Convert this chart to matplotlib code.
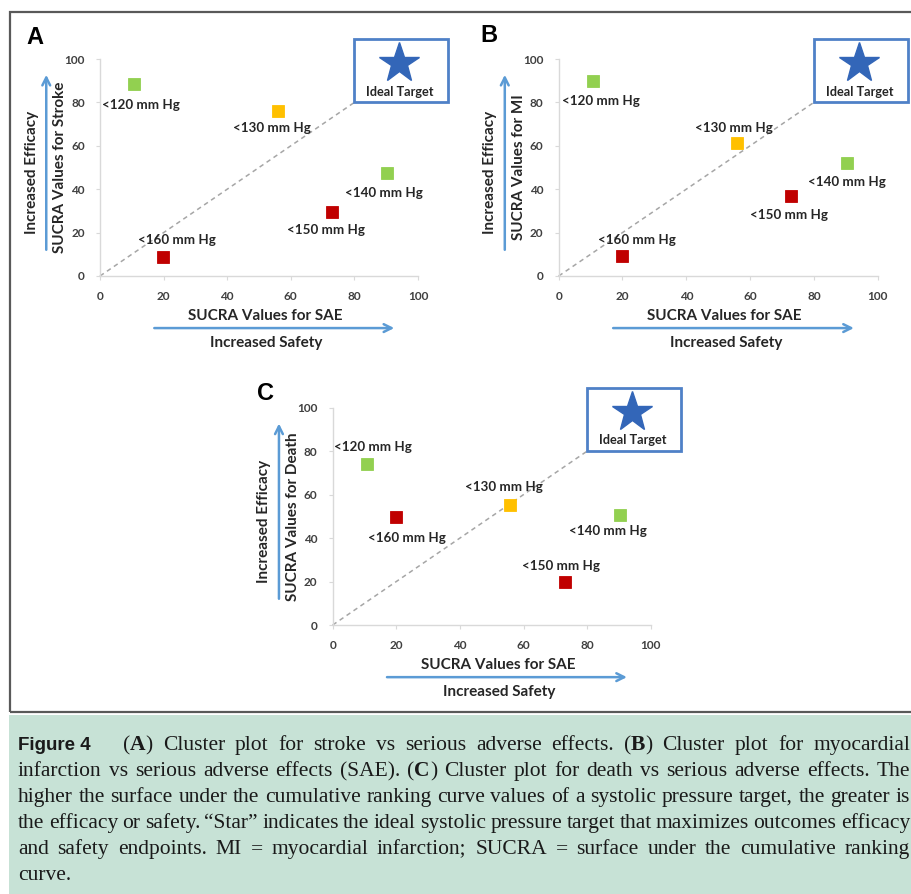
#!/usr/bin/env python3
"""Cluster plots of SUCRA values: efficacy endpoints vs serious adverse effects."""

import matplotlib

matplotlib.use("Agg")
import matplotlib.pyplot as plt
from matplotlib.patches import Rectangle

# ---- data -------------------------------------------------------------
targets = ["<120 mm Hg", "<130 mm Hg", "<140 mm Hg", "<150 mm Hg", "<160 mm Hg"]
target_colors = ["#92d050", "#ffc000", "#92d050", "#c00000", "#c00000"]

sucra_sae = [10.7, 55.9, 90.4, 72.9, 19.9]
sucra_stroke = [88.3, 76.0, 47.3, 29.3, 8.6]
sucra_mi = [89.9, 61.4, 51.9, 37.0, 9.2]
sucra_death = [74.0, 55.3, 50.7, 20.0, 49.9]

ideal_x, ideal_y = 94, 98

caption_lines = [
    "(A) Cluster plot for stroke vs serious adverse effects. (B) Cluster plot for myocardial",
    "infarction vs serious adverse effects (SAE). (C) Cluster plot for death vs serious adverse effects. The",
    "higher the surface under the cumulative ranking curve values of a systolic pressure target, the greater is",
    "the efficacy or safety. \u201cStar\u201d indicates the ideal systolic pressure target that maximizes outcomes efficacy",
    "and safety endpoints. MI = myocardial infarction; SUCRA = surface under the cumulative ranking",
    "curve.",
]

# ---- layout (pixels of the 912x894 canvas) ----------------------------
W, H = 912, 894
BLUE = "#5b9bd5"
LABEL_FONT = "Lato"
TEXT_COLOR = "#262626"

panels = [
    dict(
        letter="A", letter_xy=(35, 37), rect=(100, 59, 318, 217),
        ylabel="SUCRA Values for Stroke", values=sucra_stroke,
        label_pos=[(0.5, 78.8), (41.9, 68.0), (76.9, 38.1), (58.9, 21.2), (11.8, 16.6)],
    ),
    dict(
        letter="B", letter_xy=(489, 35), rect=(558.7, 59, 319, 217),
        ylabel="SUCRA Values for MI", values=sucra_mi,
        label_pos=[(0.9, 80.8), (42.7, 68.0), (78.2, 43.5), (60.0, 28.1), (12.4, 16.6)],
    ),
    dict(
        letter="C", letter_xy=(266, 393), rect=(332.7, 407.7, 318, 217.3),
        ylabel="SUCRA Values for Death", values=sucra_death,
        label_pos=[(0.4, 81.7), (41.6, 63.6), (74.4, 43.3), (59.4, 27.1), (11.2, 39.9)],
    ),
]


def px_to_fig(x, y):
    return x / W, 1 - y / H


def bold_label(ax, x, y, text, size, **kw):
    return ax.text(x, y, text, fontsize=size, family=LABEL_FONT, fontweight="bold",
                   color=TEXT_COLOR, **kw)


def draw_panel(fig, spec):
    left, top, width, height = spec["rect"]
    x0, y1 = px_to_fig(left, top + height)
    ax = fig.add_axes([x0, y1, width / W, height / H])
    ax.set_xlim(0, 100)
    ax.set_ylim(0, 100)
    ax.set_xticks(range(0, 101, 20))
    ax.set_yticks(range(0, 101, 20))
    for side in ("top", "right"):
        ax.spines[side].set_visible(False)
    for side in ("left", "bottom"):
        ax.spines[side].set_color("#d9d9d9")
        ax.spines[side].set_linewidth(1.0)
    ax.tick_params(length=3, color="#d9d9d9", labelcolor="#404040", labelsize=8.5, pad=8)
    for lab in ax.get_xticklabels() + ax.get_yticklabels():
        lab.set_fontfamily(LABEL_FONT)
        lab.set_fontweight("bold")

    # diagonal to the ideal target box
    ax.plot([0, 80], [0, 80], ls=(0, (3, 2.5)), color="#a6a6a6", lw=1.1, clip_on=False)

    for x, y, color in zip(sucra_sae, spec["values"], target_colors):
        ax.plot(x, y, marker="s", ms=9, color=color, mec=color, mew=0.6,
                ls="none", zorder=3)
    for name, (tx, ty) in zip(targets, spec["label_pos"]):
        bold_label(ax, tx, ty, name, 9.6, ha="left", va="center")

    # ideal target
    ax.add_patch(Rectangle((80, 80), 29.5, 29, fill=False, ec="#4f81c7", lw=2.0,
                           clip_on=False, zorder=4))
    ax.plot(ideal_x, ideal_y, marker="*", ms=30, color="#3366b8", clip_on=False, zorder=5)
    bold_label(ax, 94.3, 85, "Ideal Target", 9.2, ha="center", va="center")

    # axis titles and arrows
    tr = ax.transAxes
    bold_label(ax, 0.52, -0.184, "SUCRA Values for SAE", 11, transform=tr,
               ha="center", va="center")
    bold_label(ax, 0.524, -0.307, "Increased Safety", 11, transform=tr,
               ha="center", va="center")
    bold_label(ax, -0.126, 0.5, spec["ylabel"], 11, transform=tr, rotation=90,
               ha="center", va="center")
    bold_label(ax, -0.215, 0.477, "Increased Efficacy", 11, transform=tr, rotation=90,
               ha="center", va="center")
    arrow = dict(arrowstyle="->", color=BLUE, lw=1.8, mutation_scale=14)
    ax.annotate("", xy=(0.934, -0.24), xytext=(0.162, -0.24), xycoords="axes fraction",
                arrowprops=arrow)
    ax.annotate("", xy=(-0.169, 0.94), xytext=(-0.169, 0.108), xycoords="axes fraction",
                arrowprops=arrow)

    lx, ly = px_to_fig(*spec["letter_xy"])
    fig.text(lx, ly, spec["letter"], ha="center", va="center", fontsize=17,
             family="Liberation Sans", fontweight="bold", color="black")


def split_word(word):
    # (A), (B), (C) have a bold letter inside plain parentheses
    if len(word) == 3 and word[0] == "(" and word[2] == ")" and word[1] in "ABC":
        return [("(", "normal"), (word[1], "bold"), (")", "normal")]
    return [(word, "normal")]


def text_width(fig, renderer, text, **kw):
    t = fig.text(0, 0, text, **kw)
    w = t.get_window_extent(renderer).width
    t.remove()
    return w


def draw_caption(fig, renderer):
    font = dict(fontsize=15.5, family="Liberation Serif", color="#1a1a1a", va="baseline")
    right = 910
    baseline0, step = 750, 26
    space = text_width(fig, renderer, "a a", **font) - 2 * text_width(fig, renderer, "a", **font)

    fig.text(18 / W, 1 - baseline0 / H, "Figure 4", fontsize=13.5, family="Liberation Sans",
             fontweight="bold", color="#1a1a1a", va="baseline")

    for i, line in enumerate(caption_lines):
        y = 1 - (baseline0 + i * step) / H
        start = 123 if i == 0 else 18
        words = []
        for word in line.split(" "):
            pieces = []
            for text, weight in split_word(word):
                t = fig.text(0, y, text, fontweight=weight, **font)
                pieces.append((t, t.get_window_extent(renderer).width))
            words.append(pieces)
        widths = [sum(w for _, w in pieces) for pieces in words]
        if i == len(caption_lines) - 1 or len(words) < 2:
            gap = space
        else:
            gap = max((right - start - sum(widths)) / (len(words) - 1), 0.6 * space)
        x = start
        for pieces, wd in zip(words, widths):
            px = x
            for t, w in pieces:
                t.set_x(px / W)
                px += w
            x += wd + gap


def main():
    fig = plt.figure(figsize=(W / 100, H / 100), dpi=100)
    fig.patch.set_facecolor("white")

    # outer frame around the three panels
    fig.add_artist(Rectangle(px_to_fig(10, 712), (W + 20) / W, 700 / H, transform=fig.transFigure,
                             fill=False, ec="#595959", lw=1.6, clip_on=False))
    # caption background
    fig.add_artist(Rectangle(px_to_fig(9, H), 1, (H - 715) / H, transform=fig.transFigure,
                             fc="#c7e2d6", ec="none", zorder=0))

    for spec in panels:
        draw_panel(fig, spec)

    renderer = fig.canvas.get_renderer()
    draw_caption(fig, renderer)

    fig.savefig("out.png", dpi=100)
    plt.close(fig)


if __name__ == "__main__":
    main()
